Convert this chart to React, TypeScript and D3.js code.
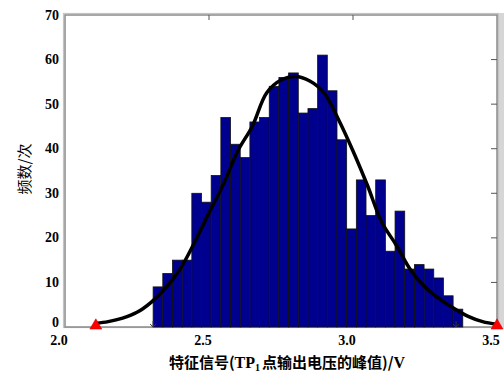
import { useEffect, useRef } from "react";
import * as d3 from "d3";

// histogram counts, 32 equal bins starting at binStart
const binStart = 2.306;
const binWidth = 0.0336;
const counts = [
  9, 12, 15, 15, 30, 28, 34, 47, 41, 38, 46, 47, 54, 56, 57, 48,
  49, 61, 53, 42, 22, 33, 25, 33, 17, 26, 13, 14, 13, 11, 7, 4,
];

// fitted curve
const curveX = [
  2.107, 2.15, 2.2, 2.25, 2.3, 2.35, 2.4, 2.45, 2.5, 2.55, 2.6, 2.65, 2.7,
  2.75, 2.8, 2.85, 2.9, 2.95, 3.0, 3.05, 3.1, 3.15, 3.2, 3.25, 3.3, 3.35,
  3.4, 3.45, 3.5,
];
const curveY = [
  0.8, 1.2, 2.0, 3.3, 5.6, 8.8, 13, 19, 25.6, 32, 39.5, 45, 52.5, 55.4,
  56.2, 55.2, 52.5, 46.5, 39.5, 31.8, 23.5, 18.4, 12.8, 9.0, 6.3, 4.2,
  2.4, 1.2, 0.6,
];

// red triangle markers at both ends
const markerX = [2.107, 3.5];
const markerY = [0.3, 0.3];

// small grey markers at the bottom
const minorX = [2.306, 3.358];

const xTicks = [2.0, 2.5, 3.0, 3.5];
const yTicks = [0, 10, 20, 30, 40, 50, 60, 70];

const W = 504;
const H = 374;

export default function App() {
  const svgRef = useRef<SVGSVGElement>(null);

  useEffect(() => {
    if (!svgRef.current) return;
    const svg = d3.select(svgRef.current);
    svg.selectAll("*").remove();

    const left = 65, right = 497, top = 15, bottom = 327;
    const x = d3.scaleLinear().domain([2.0, 3.5]).range([left, right]);
    const y = d3.scaleLinear().domain([0, 70]).range([bottom, top]);

    svg.append("rect").attr("width", W).attr("height", H).attr("fill", "#fff");

    // grey strip to the right of the axes box
    svg
      .append("rect")
      .attr("x", right)
      .attr("y", top - 2)
      .attr("width", W - right)
      .attr("height", bottom - top + 4)
      .attr("fill", "#d6d6d6");

    // frame
    svg
      .append("rect")
      .attr("x", left - 1.5)
      .attr("y", top - 1.5)
      .attr("width", right - left + 3)
      .attr("height", bottom - top + 2)
      .attr("fill", "none")
      .attr("stroke", "#c4c4c4")
      .attr("stroke-width", 1.2);
    svg
      .append("rect")
      .attr("x", left)
      .attr("y", top)
      .attr("width", right - left)
      .attr("height", bottom - top)
      .attr("fill", "none")
      .attr("stroke", "#8a8a8a")
      .attr("stroke-width", 1.5);

    // right ticks
    svg
      .append("g")
      .selectAll("line")
      .data(yTicks.slice(1, -1))
      .join("line")
      .attr("x1", right - 6)
      .attr("x2", right)
      .attr("y1", (d) => y(d))
      .attr("y2", (d) => y(d))
      .attr("stroke", "#555")
      .attr("stroke-width", 1);

    // top ticks
    svg
      .append("g")
      .selectAll("line")
      .data(xTicks.slice(1, -1))
      .join("line")
      .attr("x1", (d) => x(d))
      .attr("x2", (d) => x(d))
      .attr("y1", top)
      .attr("y2", top + 5)
      .attr("stroke", "#555")
      .attr("stroke-width", 1);

    // bars
    svg
      .append("g")
      .selectAll("rect")
      .data(counts)
      .join("rect")
      .attr("x", (_d, i) => x(binStart + i * binWidth))
      .attr("width", (_d, i) => x(binStart + (i + 1) * binWidth) - x(binStart + i * binWidth))
      .attr("y", (d) => y(d))
      .attr("height", (d) => bottom - y(d))
      .attr("fill", "#00008f")
      .attr("stroke", "#111")
      .attr("stroke-width", 0.8);

    // small markers at the bottom
    svg
      .append("g")
      .selectAll("path")
      .data(minorX)
      .join("path")
      .attr("d", (d) => {
        const px = x(d);
        return `M${px},${bottom - 6}L${px},${bottom}M${px - 3},${bottom - 3}L${px},${bottom}L${px + 3},${bottom - 3}`;
      })
      .attr("fill", "none")
      .attr("stroke", "#333")
      .attr("stroke-width", 1);

    // fitted curve
    const pts = curveX.map((v, i) => [v, curveY[i]] as [number, number]);
    svg
      .append("path")
      .datum(pts)
      .attr(
        "d",
        d3
          .line<[number, number]>()
          .x((d) => x(d[0]))
          .y((d) => y(d[1]))
          .curve(d3.curveCatmullRom)
      )
      .attr("fill", "none")
      .attr("stroke", "#000")
      .attr("stroke-width", 3.5)
      .attr("stroke-linejoin", "round");

    // triangles
    svg
      .append("g")
      .selectAll("path")
      .data(markerX)
      .join("path")
      .attr("transform", (d, i) => `translate(${x(d)},${y(markerY[i])})`)
      .attr("d", d3.symbol(d3.symbolTriangle, 62)())
      .attr("fill", "#ff0000")
      .attr("stroke", "#cc0000")
      .attr("stroke-width", 0.5);

    const serif = "'Liberation Serif', 'DejaVu Serif', serif";

    // y tick labels
    svg
      .append("g")
      .selectAll("text")
      .data(yTicks)
      .join("text")
      .attr("x", 59)
      .attr("y", (d) => y(d) + (d === 0 ? -0.5 : 4.5))
      .attr("text-anchor", "end")
      .attr("font-family", serif)
      .attr("font-weight", "bold")
      .attr("font-size", 14)
      .text((d) => d);

    // x tick labels
    svg
      .append("g")
      .selectAll("text")
      .data(xTicks)
      .join("text")
      .attr("x", (d) => x(d) - 6)
      .attr("y", 345)
      .attr("text-anchor", "middle")
      .attr("font-family", serif)
      .attr("font-weight", "bold")
      .attr("font-size", 14)
      .text((d) => d.toFixed(1));

    // x title
    const cjk = "'Noto Sans CJK SC', sans-serif";
    const t = svg
      .append("text")
      .attr("x", 287)
      .attr("y", 368)
      .attr("text-anchor", "middle")
      .attr("font-family", cjk)
      .attr("font-weight", "bold")
      .attr("font-size", 15);
    t.append("tspan").text("特征信号(");
    t.append("tspan").attr("font-family", serif).attr("font-size", 16).text("TP");
    t.append("tspan").attr("font-family", serif).attr("font-size", 10).attr("dy", 3).text("1");
    t.append("tspan").attr("dy", -3).attr("dx", 2).text("点输出电压的峰值)/");
    t.append("tspan").attr("font-family", serif).attr("font-size", 16).text("V");

    // y title
    svg
      .append("text")
      .attr("transform", "translate(30,169) rotate(-90)")
      .attr("text-anchor", "middle")
      .attr("font-family", cjk)
      .attr("font-size", 15)
      .text("频数/次");
  }, []);

  return (
    <div style={{ position: "absolute", left: 0, top: 0 }}>
      <svg ref={svgRef} width={W} height={H} style={{ display: "block" }} />
    </div>
  );
}
